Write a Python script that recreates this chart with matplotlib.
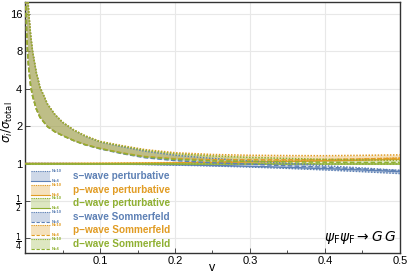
import matplotlib.pyplot as plt
from matplotlib.patches import Rectangle
from matplotlib.lines import Line2D
from matplotlib.ticker import NullLocator

# velocity grid
v = [0.001, 0.002, 0.003, 0.004, 0.005, 0.0075, 0.01, 0.015, 0.02, 0.03, 0.04, 0.05,
     0.065, 0.08, 0.1, 0.13, 0.16, 0.2, 0.25, 0.3, 0.35, 0.4, 0.45, 0.5]

# perturbative ratios (N=10 upper edge, N=4 lower edge)
s_pert_n10 = [1.0, 1.0, 1.0, 1.0, 1.0, 1.0, 1.0, 1.0, 1.0, 0.999, 0.999, 0.998,
              0.997, 0.995, 0.993, 0.988, 0.982, 0.972, 0.956, 0.937, 0.914, 0.888, 0.860, 0.830]
s_pert_n4 = [1.0, 1.0, 1.0, 1.0, 1.0, 1.0, 1.0, 1.0, 1.0, 1.0, 0.999, 0.999,
             0.998, 0.996, 0.994, 0.991, 0.986, 0.978, 0.965, 0.950, 0.931, 0.910, 0.887, 0.860]
p_pert_n10 = [1.0, 1.0, 1.0, 1.0, 1.0, 1.0, 1.0, 1.0, 1.0, 1.0, 1.001, 1.001,
              1.002, 1.003, 1.005, 1.008, 1.012, 1.018, 1.028, 1.040, 1.054, 1.070, 1.088, 1.108]
p_pert_n4 = [1.0, 1.0, 1.0, 1.0, 1.0, 1.0, 1.0, 1.0, 1.0, 1.0, 1.0, 1.001,
             1.001, 1.002, 1.003, 1.005, 1.008, 1.013, 1.020, 1.029, 1.039, 1.051, 1.065, 1.080]
d_pert_n10 = [1.0] * 24
d_pert_n4 = [1.0] * 24

# Sommerfeld-enhanced ratios
s_som_n10 = [80, 40, 27, 20, 16, 10.7, 8.0, 5.4, 4.1, 2.997, 2.468, 2.146,
             1.854, 1.662, 1.490, 1.363, 1.257, 1.166, 1.099, 1.049, 1.005, 0.959, 0.920, 0.880]
s_som_n4 = [22, 12, 8.5, 6.8, 5.7, 4.2, 3.5, 2.75, 2.35, 1.98, 1.798, 1.678,
            1.527, 1.414, 1.312, 1.199, 1.114, 1.056, 1.013, 0.988, 0.959, 0.933, 0.905, 0.877]
p_som_n10 = [80, 40, 27, 20, 16, 10.7, 8.0, 5.4, 4.1, 3.0, 2.472, 2.152,
             1.864, 1.675, 1.508, 1.391, 1.295, 1.222, 1.182, 1.165, 1.159, 1.156, 1.164, 1.174]
p_som_n4 = [22, 12, 8.5, 6.8, 5.7, 4.2, 3.5, 2.75, 2.35, 1.98, 1.80, 1.682,
            1.532, 1.423, 1.324, 1.216, 1.139, 1.094, 1.071, 1.070, 1.070, 1.077, 1.086, 1.102]
d_som_n10 = [80, 40, 27, 20, 16, 10.7, 8.0, 5.4, 4.1, 3.0, 2.47, 2.15,
             1.86, 1.67, 1.50, 1.38, 1.28, 1.20, 1.15, 1.12, 1.10, 1.08, 1.07, 1.06]
d_som_n4 = [22, 12, 8.5, 6.8, 5.7, 4.2, 3.5, 2.75, 2.35, 1.98, 1.80, 1.68,
            1.53, 1.42, 1.32, 1.21, 1.13, 1.08, 1.05, 1.04, 1.03, 1.025, 1.02, 1.02]

y_ticks = [0.25, 0.5, 1, 2, 4, 8, 16]
y_labels = [r'$\frac{1}{4}$', r'$\frac{1}{2}$', '1', '2', '4', '8', '16']
x_ticks = [0.1, 0.2, 0.3, 0.4, 0.5]
x_labels = ['0.1', '0.2', '0.3', '0.4', '0.5']

plt.rcParams['font.family'] = ['Liberation Sans', 'DejaVu Sans']
plt.rcParams['mathtext.fontset'] = 'dejavusans'

blue = '#5E81B5'
orange = '#E19C24'
green = '#8FB032'

series = [
    (s_pert_n4, s_pert_n10, blue, '-', 's\u2212wave perturbative'),
    (p_pert_n4, p_pert_n10, orange, '-', 'p\u2212wave perturbative'),
    (d_pert_n4, d_pert_n10, green, '-', 'd\u2212wave perturbative'),
    (s_som_n4, s_som_n10, blue, (0, (3, 1.5)), 's\u2212wave Sommerfeld'),
    (p_som_n4, p_som_n10, orange, (0, (3, 1.5)), 'p\u2212wave Sommerfeld'),
    (d_som_n4, d_som_n10, green, (0, (3, 1.5)), 'd\u2212wave Sommerfeld'),
]

fig = plt.figure(figsize=(4.11, 2.76), dpi=100)
ax = fig.add_axes([0.061, 0.083, 0.912, 0.910])

for lo, hi, c, ls, lab in series:
    ax.fill_between(v, lo, hi, color=c, alpha=0.3, lw=0, zorder=2)
    ax.plot(v, hi, color=c, ls=(0, (1, 1)), lw=1.1, zorder=3)
    ax.plot(v, lo, color=c, ls=ls, lw=1.1, zorder=3)

ax.set_yscale('log', base=2)
ax.set_xlim(0, 0.5)
ax.set_ylim(0.19, 20)
ax.set_yticks(y_ticks)
ax.set_yticklabels(y_labels)
ax.yaxis.set_minor_locator(NullLocator())
ax.set_xticks(x_ticks)
ax.set_xticklabels(x_labels)
ax.set_xticks([0.05, 0.15, 0.25, 0.35, 0.45], minor=True)
ax.tick_params(which='both', direction='in', labelsize=8, width=0.6, color='#333333')
ax.tick_params(which='major', length=3.5)
ax.tick_params(which='minor', length=2)
ax.tick_params(axis='x', pad=2)
ax.tick_params(axis='y', pad=2)
ax.grid(color='#e8e8e8', lw=0.8, zorder=0)
ax.set_axisbelow(True)
for sp in ax.spines.values():
    sp.set_color('#333333')
    sp.set_linewidth(1.0)

ax.set_xlabel('v', fontsize=9)
ax.xaxis.set_label_coords(0.5, -0.035)
ax.set_ylabel(r'$\sigma_i/\sigma_{\rm total}$', fontsize=8.5)
ax.yaxis.set_label_coords(-0.026, 0.52)

ax.text(0.99, 0.03, r'$\psi_{\rm F}\psi_{\rm F}\rightarrow G\,G$', transform=ax.transAxes,
        ha='right', va='bottom', fontsize=10)

# hand-made legend
for i, (lo, hi, c, ls, lab) in enumerate(series):
    yc = 0.307 - i * 0.054
    ax.add_patch(Rectangle((0.016, yc - 0.02), 0.05, 0.04, transform=ax.transAxes,
                           facecolor=c, alpha=0.3, lw=0, zorder=4))
    ax.add_line(Line2D([0.016, 0.066], [yc + 0.02, yc + 0.02], transform=ax.transAxes,
                       color=c, ls=(0, (1, 1)), lw=0.8, zorder=5))
    ax.add_line(Line2D([0.016, 0.066], [yc - 0.02, yc - 0.02], transform=ax.transAxes,
                       color=c, ls=ls, lw=0.8, zorder=5))
    ax.text(0.07, yc + 0.02, 'N=10', transform=ax.transAxes, color=c, fontsize=3,
            fontweight='bold', va='center', ha='left')
    ax.text(0.07, yc - 0.02, 'N=4', transform=ax.transAxes, color=c, fontsize=3,
            fontweight='bold', va='center', ha='left')
    ax.text(0.128, yc, lab, transform=ax.transAxes, color=c, fontsize=7.2,
            fontweight='bold', va='center', ha='left')

fig.savefig('out.png', dpi=100)
